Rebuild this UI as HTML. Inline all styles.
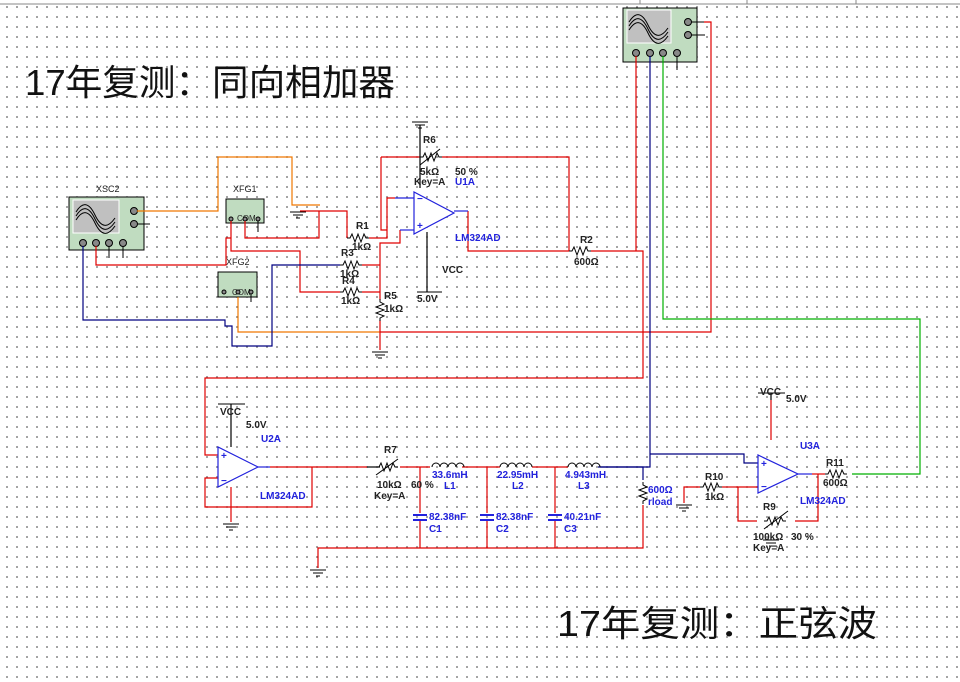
<!DOCTYPE html>
<html><head><meta charset="utf-8"><style>
html,body{margin:0;padding:0}
body{width:960px;height:682px;overflow:hidden;background-color:#fff;background-image:radial-gradient(circle,#8a8a8a 0.8px,transparent 1.1px);background-size:10px 10px;background-position:2px 2px;position:relative;font-family:"Liberation Sans",sans-serif}
svg{position:absolute;left:0;top:0}
.t{font-family:"Liberation Sans",sans-serif;font-size:10px;font-weight:bold;fill:#222}
.b{font-family:"Liberation Sans",sans-serif;font-size:10px;font-weight:bold;fill:#2222dd}
.big{font-family:"Liberation Sans","Noto Sans CJK SC",sans-serif;font-size:36px;fill:#111}
</style></head><body>
<svg width="960" height="682" viewBox="0 0 960 682">
<defs>
<path id="res" d="M0 0 L3 0 L5 -4 L8 4 L11 -4 L14 4 L17 -4 L19 0 L22 0" fill="none" stroke="#000" stroke-width="1"/>
<path id="ind" d="M0 0 a4 4 0 0 1 8 0 a4 4 0 0 1 8 0 a4 4 0 0 1 8 0 a4 4 0 0 1 8 0" fill="none" stroke="#000" stroke-width="1"/>
<g id="gnd" stroke="#000" stroke-width="1"><line x1="-8" y1="0" x2="8" y2="0"/><line x1="-5" y1="3" x2="5" y2="3"/><line x1="-2" y1="6" x2="2" y2="6"/></g>
<g id="cap" stroke="#2222dd" stroke-width="2"><line x1="-7" y1="-2" x2="7" y2="-2"/><line x1="-7" y1="3" x2="7" y2="3"/></g>
</defs>
<line x1="0" y1="4" x2="960" y2="4" stroke="#888" stroke-width="1"/>
<line x1="640" y1="0" x2="640" y2="4" stroke="#888"/><line x1="747" y1="0" x2="747" y2="4" stroke="#888"/><line x1="856" y1="0" x2="856" y2="4" stroke="#888"/>

<text class="big" x="25" y="95" textLength="370" lengthAdjust="spacingAndGlyphs">17年复测：同向相加器</text>
<text class="big" x="557" y="636" textLength="320" lengthAdjust="spacingAndGlyphs">17年复测：正弦波</text>

<rect x="69" y="197" width="75" height="53" fill="#c0dcc0" stroke="#000"/>
<rect x="73" y="200" width="46" height="33" fill="#c0c0c0" stroke="#fff"/>
<path d="M76 212 Q86 196 95 215 T115 218 M76 216 Q86 200 95 219 T115 222 M76 220 Q86 204 95 223 T115 226" fill="none" stroke="#000"/>
<g fill="#888" stroke="#000"><circle cx="134" cy="211" r="3.5"/><circle cx="134" cy="224" r="3.5"/><circle cx="83" cy="243" r="3.5"/><circle cx="96" cy="243" r="3.5"/><circle cx="109" cy="243" r="3.5"/><circle cx="123" cy="243" r="3.5"/></g>
<text class="t" x="96" y="192" style="font-size:9px;font-weight:normal">XSC2</text>
<g stroke="#000"><line x1="137" y1="224" x2="150" y2="224"/><line x1="109" y1="246" x2="109" y2="258"/><line x1="123" y1="246" x2="123" y2="258"/></g>

<rect x="623" y="8" width="74" height="54" fill="#c0dcc0" stroke="#000"/>
<rect x="627" y="10" width="44" height="33" fill="#c0c0c0" stroke="#fff"/>
<path d="M629 22 Q639 6 648 25 T668 28 M629 26 Q639 10 648 29 T668 32 M629 30 Q639 14 648 33 T668 36" fill="none" stroke="#000"/>
<g fill="#888" stroke="#000"><circle cx="688" cy="22" r="3.5"/><circle cx="688" cy="35" r="3.5"/><circle cx="636" cy="53" r="3.5"/><circle cx="650" cy="53" r="3.5"/><circle cx="663" cy="53" r="3.5"/><circle cx="677" cy="53" r="3.5"/></g>
<g stroke="#000"><line x1="691" y1="22" x2="704" y2="22"/><line x1="691" y1="35" x2="705" y2="35"/><line x1="677" y1="56" x2="677" y2="70"/></g>

<rect x="226" y="199" width="38" height="24" fill="#c0dcc0" stroke="#000"/>
<text class="t" x="233" y="192" style="font-size:9px;font-weight:normal">XFG1</text>
<text class="t" x="237" y="221" style="font-size:8px;font-weight:normal">COM</text>
<g fill="#888" stroke="#000"><circle cx="231" cy="219" r="2"/><circle cx="245" cy="219" r="2"/><circle cx="258" cy="219" r="2"/></g>
<rect x="218" y="272" width="39" height="25" fill="#c0dcc0" stroke="#000"/>
<text class="t" x="226" y="265" style="font-size:9px;font-weight:normal">XFG2</text>
<text class="t" x="232" y="295" style="font-size:8px;font-weight:normal">COM</text>
<g fill="#888" stroke="#000"><circle cx="224" cy="292" r="2"/><circle cx="238" cy="292" r="2"/><circle cx="251" cy="292" r="2"/></g>
<g stroke="#000"><line x1="258" y1="221" x2="258" y2="232"/><line x1="251" y1="294" x2="251" y2="302"/></g>

<g fill="none" stroke-width="1.2">
<polyline stroke="#f07800" points="137,211 218,211 218,157 292,157 292,205 320,205"/>
<polyline stroke="#f07800" points="238,297 238,332 380,332"/>
<polyline stroke="#e00000" points="380,332 711,332 711,22 704,22"/>
<polyline stroke="#e00000" points="300,211 347,211 347,238"/>
<polyline stroke="#e00000" points="245,221 245,238 319,238 319,211"/>
<polyline stroke="#e00000" points="231,221 231,251 300,251 300,292 340,292"/>
<polyline stroke="#e00000" points="96,246 96,265 226,265 226,238 231,238"/>
<polyline stroke="#000080" points="83,246 83,320 225,320 225,326 232,326 232,346 272,346 272,265 340,265"/>
<polyline stroke="#e00000" points="362,265 380,265"/>
<polyline stroke="#e00000" points="362,292 380,292"/>
<polyline stroke="#e00000" points="369,238 387,238 387,198 395,198"/>
<polyline stroke="#e00000" points="381,157 381,230 387,230"/>
<polyline stroke="#e00000" points="400,230 400,243 380,243 380,300"/>
<polyline stroke="#e00000" points="380,320 380,350"/>
<polyline stroke="#e00000" points="381,157 420,157"/>
<polyline stroke="#e00000" points="442,157 569,157 569,251"/>
<polyline stroke="#e00000" points="468,211 468,251 569,251"/>
<polyline stroke="#e00000" points="591,251 643,251 643,378 205,378 205,455 218,455"/>
<polyline stroke="#e00000" points="636,56 636,251"/>
<polyline stroke="#000080" points="650,56 650,467 598,467"/>
<polyline stroke="#000080" points="650,454 744,454 744,463 758,463"/>
<polyline stroke="#00b000" points="663,56 663,319 920,319 920,474 852,474"/>
<polyline stroke="#000" points="420,125 420,188"/>
<polyline stroke="#000" points="427,232 427,292"/>
</g>
<use href="#gnd" x="420" y="122"/>
<use href="#gnd" x="298" y="212"/>
<use href="#gnd" x="380" y="352"/>
<line x1="417" y1="292" x2="442" y2="292" stroke="#000"/>
<use href="#res" x="347" y="238"/>
<use href="#res" x="340" y="265"/>
<use href="#res" x="340" y="292"/>
<use href="#res" x="420" y="157"/>
<use href="#res" x="569" y="251"/>
<use href="#res" transform="translate(380,299) rotate(90)"/>
<line x1="420" y1="165" x2="440" y2="149" stroke="#000"/>
<g fill="none" stroke="#2222dd" stroke-width="1.2">
<polygon points="414,192 414,234 454,213" fill="#fff"/>
<line x1="395" y1="198" x2="414" y2="198"/><line x1="400" y1="230" x2="414" y2="230"/><line x1="454" y1="211" x2="468" y2="211"/>
</g>
<text class="b" x="417" y="202">−</text><text class="b" x="417" y="229">+</text>
<text class="t" x="423" y="143">R6</text>
<text class="t" x="420" y="175">5kΩ</text>
<text class="t" x="455" y="175">50 %</text>
<text class="t" x="414" y="185">Key=A</text>
<text class="b" x="455" y="185">U1A</text>
<text class="b" x="455" y="241">LM324AD</text>
<text class="t" x="442" y="273">VCC</text>
<text class="t" x="417" y="302">5.0V</text>
<text class="t" x="356" y="229">R1</text>
<text class="t" x="352" y="250">1kΩ</text>
<text class="t" x="341" y="256">R3</text>
<text class="t" x="340" y="277">1kΩ</text>
<text class="t" x="342" y="284">R4</text>
<text class="t" x="341" y="304">1kΩ</text>
<text class="t" x="384" y="299">R5</text>
<text class="t" x="384" y="312">1kΩ</text>
<text class="t" x="580" y="243">R2</text>
<text class="t" x="574" y="265">600Ω</text>

<g fill="none" stroke-width="1.2">
<polyline stroke="#e00000" points="218,478 205,478 205,507 312,507 312,467"/>
<polyline stroke="#e00000" points="270,467 367,467"/>
<polyline stroke="#000" points="367,467 380,467"/>
<polyline stroke="#e00000" points="400,467 430,467"/>
<polyline stroke="#e00000" points="462,467 500,467"/>
<polyline stroke="#e00000" points="532,467 568,467"/>
<path stroke="#e00000" d="M420 467 V513 M420 521 V548 M487 467 V513 M487 521 V548 M555 467 V513 M555 521 V548"/>
<polyline stroke="#000080" points="600,467 643,467 643,480"/>
<polyline stroke="#e00000" points="643,505 643,548 318,548 318,568"/>
<polyline stroke="#e00000" points="231,487 231,522"/>
<polyline stroke="#000" points="231,404 231,447"/>
<polyline stroke="#e00000" points="771,400 771,440"/>
<polyline stroke="#000" points="771,393 771,400"/>
<polyline stroke="#e00000" points="812,474 825,474"/>
<polyline stroke="#e00000" points="818,474 818,521 795,521"/>
<polyline stroke="#e00000" points="757,521 738,521 738,487 758,487"/>
<polyline stroke="#e00000" points="684,503 684,487 700,487"/>
<polyline stroke="#e00000" points="722,487 738,487"/>
</g>
<use href="#res" x="376" y="467"/>
<line x1="376" y1="475" x2="398" y2="459" stroke="#000"/>
<use href="#ind" x="432" y="467"/>
<use href="#ind" x="500" y="467"/>
<use href="#ind" x="568" y="467"/>
<use href="#cap" x="420" y="517"/>
<use href="#cap" x="487" y="517"/>
<use href="#cap" x="555" y="517"/>
<use href="#res" transform="translate(643,482) rotate(90)"/>
<use href="#gnd" x="318" y="570"/>
<use href="#gnd" x="231" y="524"/>
<line x1="218" y1="404" x2="245" y2="404" stroke="#000"/>
<g fill="none" stroke="#2222dd" stroke-width="1.2">
<polygon points="218,447 218,487 258,467" fill="#fff"/>
<line x1="258" y1="467" x2="270" y2="467"/>
<polygon points="758,455 758,493 798,474" fill="#fff"/>
<line x1="798" y1="474" x2="812" y2="474"/>
</g>
<text class="b" x="221" y="459">+</text><text class="b" x="221" y="484">−</text>
<text class="b" x="761" y="467">+</text><text class="b" x="761" y="490">−</text>
<use href="#res" x="700" y="487"/>
<use href="#res" x="825" y="474"/>
<use href="#res" x="764" y="521"/>
<line x1="764" y1="529" x2="788" y2="511" stroke="#000"/>
<line x1="758" y1="393" x2="785" y2="393" stroke="#000"/>
<use href="#gnd" x="684" y="505"/>
<use href="#gnd" x="771" y="540"/>

<text class="t" x="220" y="415">VCC</text>
<text class="t" x="246" y="428">5.0V</text>
<text class="b" x="261" y="442">U2A</text>
<text class="b" x="260" y="499">LM324AD</text>
<text class="t" x="384" y="453">R7</text>
<text class="t" x="377" y="488">10kΩ</text>
<text class="t" x="411" y="488">60 %</text>
<text class="t" x="374" y="499">Key=A</text>
<text class="b" x="432" y="478">33.6mH</text><text class="b" x="444" y="489">L1</text>
<text class="b" x="497" y="478">22.95mH</text><text class="b" x="512" y="489">L2</text>
<text class="b" x="565" y="478">4.943mH</text><text class="b" x="578" y="489">L3</text>
<text class="b" x="429" y="520">82.38nF</text><text class="b" x="429" y="532">C1</text>
<text class="b" x="496" y="520">82.38nF</text><text class="b" x="496" y="532">C2</text>
<text class="b" x="564" y="520">40.21nF</text><text class="b" x="564" y="532">C3</text>
<text class="b" x="648" y="493">600Ω</text><text class="b" x="648" y="505">rload</text>
<text class="t" x="760" y="395">VCC</text>
<text class="t" x="786" y="402">5.0V</text>
<text class="b" x="800" y="449">U3A</text>
<text class="b" x="800" y="504">LM324AD</text>
<text class="t" x="705" y="480">R10</text>
<text class="t" x="705" y="500">1kΩ</text>
<text class="t" x="826" y="466">R11</text>
<text class="t" x="823" y="486">600Ω</text>
<text class="t" x="763" y="510">R9</text>
<text class="t" x="753" y="540">100kΩ</text>
<text class="t" x="791" y="540">30 %</text>
<text class="t" x="753" y="551">Key=A</text>
</svg>
</body></html>
